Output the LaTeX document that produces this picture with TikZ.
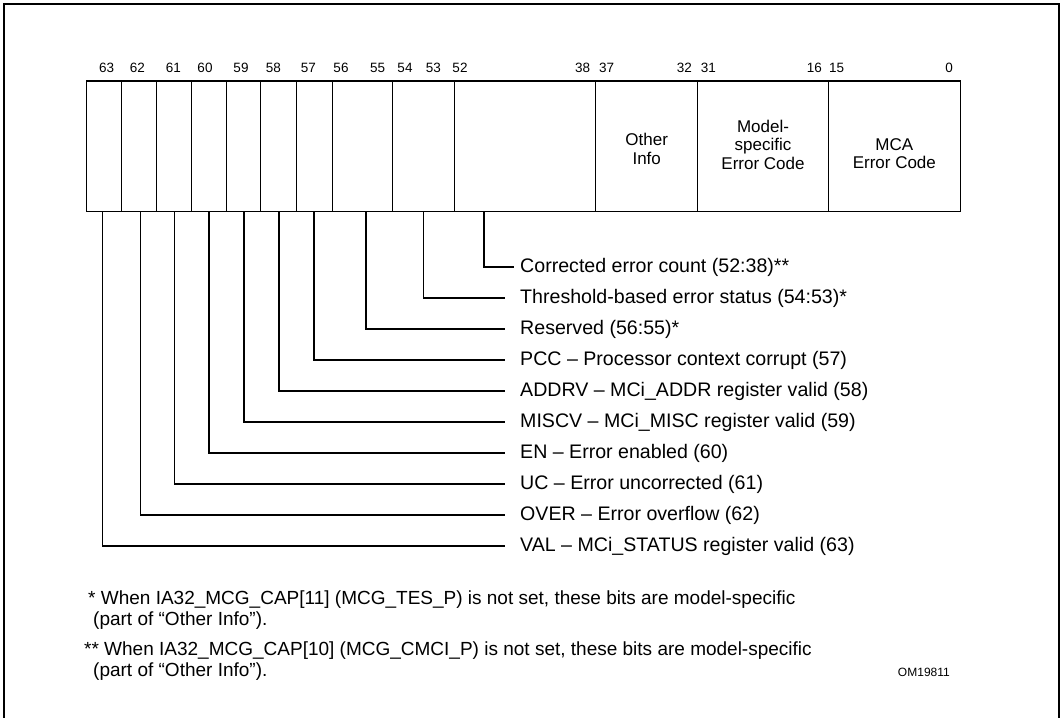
\documentclass[tikz,border=0pt]{standalone}
\usepackage{fontspec}
\setmainfont{Liberation Sans}
\begin{document}
\begin{tikzpicture}[x=1pt,y=-1pt,
  field/.style={draw=black, line width=1.3pt, minimum height=130.7pt, inner sep=0pt, anchor=center},
  bitnum/.style={font=\fontsize{13.5}{15}\selectfont, inner sep=0pt},
  boxtext/.style={font=\fontsize{17}{18.5}\selectfont, align=center, inner sep=0pt},
  lab/.style={font=\fontsize{19.6}{22}\selectfont, anchor=west, inner sep=0pt},
  conn/.style={line width=1.3pt},
  note/.style={font=\fontsize{19}{21}\selectfont, anchor=west, inner sep=0pt}]
\useasboundingbox (0,0) rectangle (1061,718);
\clip (0,0) rectangle (1061,718);
\draw[line width=2.2pt] (4,4) rectangle (1059,740);

% register fields
\node[field, minimum width=35pt]   (f63) at (104.2,146.35) {};
\node[field, minimum width=35pt]   (f62) at (139.2,146.35) {};
\node[field, minimum width=34.6pt] (f61) at (174,146.35) {};
\node[field, minimum width=35pt]   (f60) at (208.8,146.35) {};
\node[field, minimum width=34pt]   (f59) at (243.3,146.35) {};
\node[field, minimum width=36pt]   (f58) at (278.3,146.35) {};
\node[field, minimum width=36pt]   (f57) at (314.3,146.35) {};
\node[field, minimum width=60pt]   (f56) at (362.3,146.35) {};
\node[field, minimum width=62.2pt] (f54) at (423.4,146.35) {};
\node[field, minimum width=141.2pt] (f52) at (525.1,146.35) {};
\node[field, minimum width=102pt]  (f37) at (646.7,146.35) {};
\node[field, minimum width=130.6pt] (f31) at (763,146.35) {};
\node[field, minimum width=132.1pt] (f15) at (894.35,146.35) {};

% field texts
\node[boxtext] (t37) at (646.7,149) {Other\\Info};
\node[boxtext] (t31) at (763,144.6) {Model-\\specific\\Error Code};
\node[boxtext] (t15) at (894.35,153.8) {MCA\\Error Code};

% bit numbers
\node[bitnum] (n63) at (106.7,68) {63};
\node[bitnum] (n62) at (137.3,68) {62};
\node[bitnum] (n61) at (173.3,68) {61};
\node[bitnum] (n60) at (205,68) {60};
\node[bitnum] (n59) at (241,68) {59};
\node[bitnum] (n58) at (273.3,68) {58};
\node[bitnum] (n57) at (308.3,68) {57};
\node[bitnum] (n56) at (341,68) {56};
\node[bitnum] (n55) at (377.7,68) {55};
\node[bitnum] (n54) at (405,68) {54};
\node[bitnum] (n53) at (433.3,68) {53};
\node[bitnum] (n52) at (460,68) {52};
\node[bitnum] (n38) at (582.7,68) {38};
\node[bitnum] (n37) at (606.7,68) {37};
\node[bitnum] (n32) at (684.3,68) {32};
\node[bitnum] (n31) at (708.3,68) {31};
\node[bitnum] (n16) at (814.3,68) {16};
\node[bitnum] (n15) at (836.7,68) {15};
\node[bitnum] (n0)  at (949,68) {0};

% labels
\node[lab] (l52) at (520,267) {Corrected error count (52:38)**};
\node[lab] (l54) at (520,298) {Threshold-based error status (54:53)*};
\node[lab] (l56) at (520,329) {Reserved (56:55)*};
\node[lab] (l57) at (520,360) {PCC – Processor context corrupt (57)};
\node[lab] (l58) at (520,391) {ADDRV – MCi\_ADDR register valid (58)};
\node[lab] (l59) at (520,422) {MISCV – MCi\_MISC register valid (59)};
\node[lab] (l60) at (520,453) {EN – Error enabled (60)};
\node[lab] (l61) at (520,484) {UC – Error uncorrected (61)};
\node[lab] (l62) at (520,515) {OVER – Error overflow (62)};
\node[lab] (l63) at (520,546) {VAL – MCi\_STATUS register valid (63)};

% connectors
\draw[conn] ([xshift=-41.1pt]f52.south) |- ([xshift=-6pt]l52.west);
\draw[conn] ([xshift=0.3pt]f54.south) |- ([xshift=-15pt]l54.west);
\draw[conn] ([xshift=3.7pt]f56.south) |- ([xshift=-15pt]l56.west);
\draw[conn] ([xshift=-0.3pt]f57.south) |- ([xshift=-15pt]l57.west);
\draw[conn] ([xshift=0.7pt]f58.south) |- ([xshift=-15pt]l58.west);
\draw[conn] ([xshift=0.7pt]f59.south) |- ([xshift=-15pt]l59.west);
\draw[conn] ([xshift=0.2pt]f60.south) |- ([xshift=-15pt]l60.west);
\draw[conn] ([xshift=0.3pt]f61.south) |- ([xshift=-15pt]l61.west);
\draw[conn] ([xshift=1.1pt]f62.south) |- ([xshift=-15pt]l62.west);
\draw[conn] ([xshift=-1.5pt]f63.south) |- ([xshift=-15pt]l63.west);

% footnotes
\node[note] (fn1a) at (88,600) {* When IA32\_MCG\_CAP[11] (MCG\_TES\_P) is not set, these bits are model-specific};
\node[note] (fn1b) at (93,621) {(part of “Other Info”).};
\node[note] (fn2a) at (84,651) {** When IA32\_MCG\_CAP[10] (MCG\_CMCI\_P) is not set, these bits are model-specific};
\node[note] (fn2b) at (93,672) {(part of “Other Info”).};
\node[font=\fontsize{12}{14}\selectfont, anchor=east, inner sep=0pt] (om) at (950,672) {OM19811};
\end{tikzpicture}
\end{document}
